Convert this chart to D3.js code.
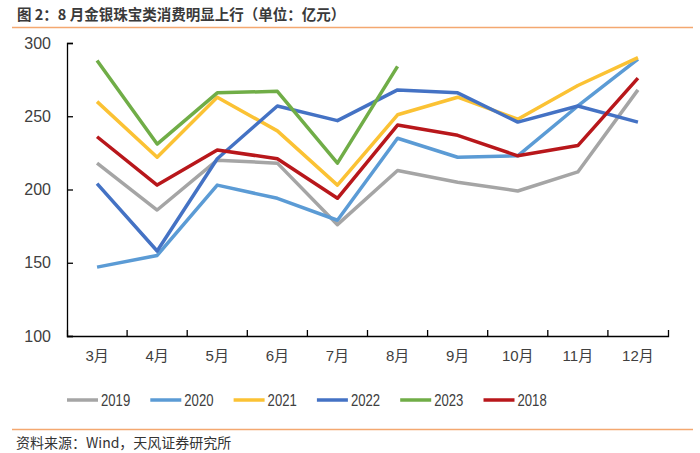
<!DOCTYPE html>
<html>
<head>
<meta charset="utf-8">
<script src="https://cdn.jsdelivr.net/npm/d3@7"></script>
<style>
  body { margin: 0; background: #fff; }
  svg { display: block; }
</style>
</head>
<body>
<script>
var months = ["3月", "4月", "5月", "6月", "7月", "8月", "9月", "10月", "11月", "12月"];
var yTicks = [100, 150, 200, 250, 300];

var s2019 = [218, 186, 220, 218, 176, 213, 205, 199, 212, 268];
var s2020 = [147, 155, 203, 194, 179, 235, 222, 223, 257, 289];
var s2021 = [260, 222, 263, 240, 203, 251, 263, 248, 271, 290];
var s2022 = [204, 158, 221, 257, 247, 268, 266, 246, 257, 246];
var s2023 = [288, 231, 266, 267, 218, 284];
var s2018 = [236, 203, 227, 221, 194, 244, 237, 223, 230, 276];

var series = [
  { name: "2019", values: s2019, color: "#a5a5a5" },
  { name: "2020", values: s2020, color: "#5b9bd5" },
  { name: "2021", values: s2021, color: "#fbc234" },
  { name: "2022", values: s2022, color: "#4472c4" },
  { name: "2023", values: s2023, color: "#70ad47" },
  { name: "2018", values: s2018, color: "#b8171b" }
];

var w = 700, h = 453;
var plotLeft = 67, plotRight = 668, plotTop = 43, plotBottom = 336;

var svg = d3.select("body").append("svg")
    .attr("width", w)
    .attr("height", h);

// title and rules
svg.append("text")
    .attr("x", 17)
    .attr("y", 20)
    .attr("font-family", "'Noto Sans CJK SC', sans-serif")
    .attr("font-weight", "bold")
    .attr("font-size", "14.5px")
    .attr("fill", "#3a3a3a")
    .text("图 2：8 月金银珠宝类消费明显上行（单位：亿元）");

svg.append("line")
    .attr("x1", 12).attr("x2", 693)
    .attr("y1", 27.5).attr("y2", 27.5)
    .attr("stroke", "#f4a870").attr("stroke-width", 1.5);

svg.append("line")
    .attr("x1", 12).attr("x2", 693)
    .attr("y1", 429.5).attr("y2", 429.5)
    .attr("stroke", "#f4a870").attr("stroke-width", 1.5);

svg.append("text")
    .attr("x", 16)
    .attr("y", 448)
    .attr("font-family", "'Noto Sans CJK SC', sans-serif")
    .attr("font-size", "14px")
    .attr("fill", "#333")
    .text("资料来源：Wind，天风证券研究所");

var x = d3.scaleBand().domain(months).range([plotLeft, plotRight]);
var y = d3.scaleLinear().domain([100, 300]).range([plotBottom, plotTop]);

// axes
var xAxis = svg.append("g")
    .attr("transform", "translate(0," + plotBottom + ")")
    .call(d3.axisBottom(x).tickSizeInner(-6).tickSizeOuter(-6).tickPadding(14));

var yAxis = svg.append("g")
    .attr("transform", "translate(" + plotLeft + ",0)")
    .call(d3.axisLeft(y).tickValues(yTicks).tickSizeInner(-6).tickSizeOuter(-6).tickPadding(16));

// x ticks sit on the band edges
xAxis.selectAll(".tick line")
    .attr("transform", "translate(" + (x.bandwidth() / 2) + ",0)");
xAxis.selectAll(".tick").filter(function (d, i) { return i === months.length - 1; })
    .select("line").remove();

[xAxis, yAxis].forEach(function (g) {
  g.select(".domain").attr("stroke", "#000").attr("stroke-width", 1.3);
  g.selectAll(".tick line").attr("stroke", "#000").attr("stroke-width", 1.3);
  g.selectAll("text")
    .attr("fill", "#404040")
    .attr("font-family", "'Liberation Sans', 'Noto Sans CJK SC', sans-serif")
    .attr("font-size", "16px");
});
xAxis.selectAll("text").attr("font-size", "15px");

// lines
var line = d3.line()
    .x(function (d, i) { return x(months[i]) + x.bandwidth() / 2; })
    .y(function (d) { return y(d); });

svg.selectAll(".series")
    .data(series)
    .enter()
    .append("path")
    .attr("class", "series")
    .attr("d", function (d) { return line(d.values); })
    .attr("fill", "none")
    .attr("stroke", function (d) { return d.color; })
    .attr("stroke-width", 3.5)
    .attr("stroke-linejoin", "round");

// legend
var legend = svg.selectAll(".legend")
    .data(series)
    .enter()
    .append("g")
    .attr("class", "legend")
    .attr("transform", function (d, i) { return "translate(" + (67 + i * 83.3) + ",400)"; });

legend.append("line")
    .attr("x1", 0).attr("x2", 31)
    .attr("stroke", function (d) { return d.color; })
    .attr("stroke-width", 3.5);

// narrow digits like the original
legend.append("text")
    .attr("transform", "translate(34,6) scale(0.82,1)")
    .attr("font-family", "'Liberation Sans', sans-serif")
    .attr("font-size", "16px")
    .attr("fill", "#404040")
    .text(function (d) { return d.name; });
</script>
</body>
</html>
